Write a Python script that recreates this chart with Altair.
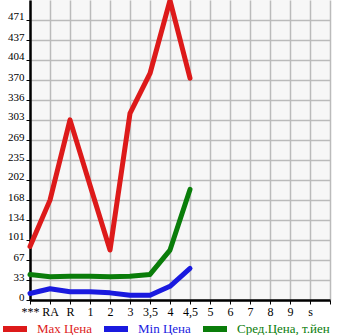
import altair as alt
import pandas as pd

categories = ["***", "RA", "R", "1", "2", "3", "3,5", "4", "4,5", "5", "6", "7", "8", "9", "s"]
max_price = [90, 168, 303, 193, 84, 314, 381, 504, 373]
min_price = [11, 19, 14, 14, 12, 8, 8, 23, 53]
avg_price = [43, 39, 40, 40, 39, 40, 43, 84, 186]
y_ticks = [0, 33, 67, 101, 134, 168, 202, 235, 269, 303, 336, 370, 404, 437, 471]
series_names = ["Max Цена", "Min Цена", "Сред.Цена, т.йен"]
series_colors = ["#dd1a1a", "#1a1adf", "#0a7d0a"]

rows = []
for name, vals in zip(series_names, [max_price, min_price, avg_price]):
    for i, v in enumerate(vals):
        rows.append({"idx": i, "value": v, "series": name})
df = pd.DataFrame(rows)

label_expr = "datum.value < %d ? %s[datum.value] : ''" % (
    len(categories), str(categories).replace("'", '"'))

font = "Liberation Serif"
label_color_expr = ("datum.label == '%s' ? '%s' : datum.label == '%s' ? '%s' : '%s'"
                    % (series_names[0], series_colors[0], series_names[1],
                       series_colors[1], series_colors[2]))

chart = alt.Chart(df).mark_line(strokeWidth=5, strokeCap="round", strokeJoin="round").encode(
    x=alt.X("idx:Q",
            scale=alt.Scale(domain=[0, 15], nice=False, zero=False),
            axis=alt.Axis(values=list(range(16)), labelExpr=label_expr, title=None,
                          grid=True, gridColor="#bbbbbb", gridWidth=1.5,
                          domainColor="black", domainWidth=2.5,
                          tickColor="black", tickSize=4, tickWidth=1,
                          labelFont=font, labelFontSize=12, labelColor="black",
                          labelBaseline="top", labelPadding=2, labelFlush=False)),
    y=alt.Y("value:Q",
            scale=alt.Scale(domain=[0, 504.6], nice=False),
            axis=alt.Axis(values=y_ticks, title=None,
                          grid=True, gridColor="#bbbbbb", gridWidth=1.5,
                          domainColor="black", domainWidth=2.5,
                          tickColor="black", tickSize=4, tickWidth=1,
                          labelFont=font, labelFontSize=11, labelColor="black",
                          labelPadding=2, labelOffset=-3, labelFlush=False)),
    color=alt.Color("series:N",
                    scale=alt.Scale(domain=series_names, range=series_colors),
                    legend=alt.Legend(orient="none", legendX=-30, legendY=314,
                                      direction="horizontal", title=None,
                                      padding=0, rowPadding=0,
                                      symbolType="stroke", symbolSize=576,
                                      symbolStrokeWidth=6, labelFont=font,
                                      labelFontSize=13, labelOffset=7,
                                      columnPadding=0, labelLimit=200,
                                      labelColor={"expr": label_color_expr})),
    order="idx:Q",
).properties(
    width=300, height=300,
    autosize=alt.AutoSizeParams(type="none"),
    padding={"left": 30, "top": 0, "right": 15, "bottom": 35},
).configure_view(fill="#f7f7f7", stroke=None)

chart.save("out.html", embed_options={"renderer": "svg", "actions": False})
